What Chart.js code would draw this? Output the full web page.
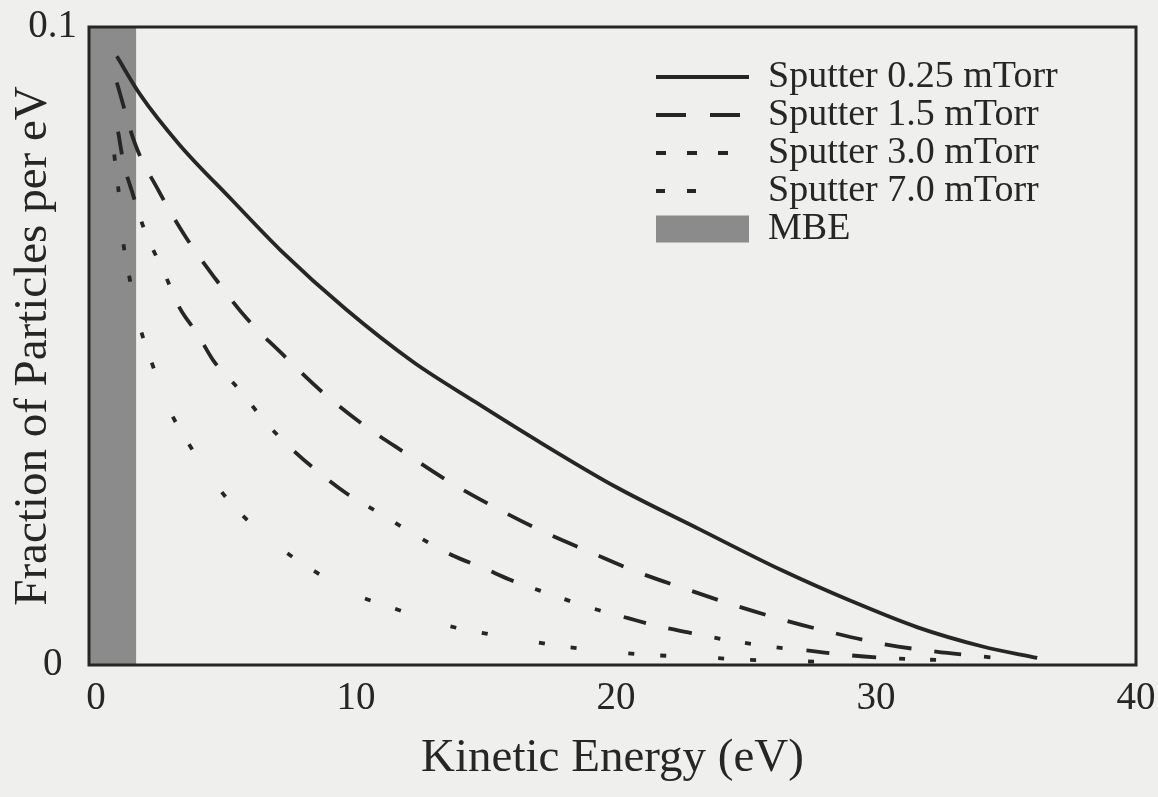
<!DOCTYPE html>
<html>
<head>
<meta charset="utf-8">
<title>Kinetic energy distribution</title>
<script src="https://cdn.jsdelivr.net/npm/chart.js@4.4.0/dist/chart.umd.min.js"></script>
<style>
  body { margin: 0; background: #efefed; }
  #wrap { width: 1158px; height: 797px; }
</style>
</head>
<body>
<div id="wrap"><canvas id="energyChart" width="1158" height="797"></canvas></div>
<script>
// axis ranges / ticks
const xMin = -0.27;
const xMax = 40;
const xTicks = [0, 10, 20, 30, 40];
const yTicks = [0, 0.1];

// Sputter 0.25 mTorr (solid)
const energy025 = [0.8, 1.7, 3.2, 5.2, 7.1, 9.6, 12.2, 14.6, 16.8, 20.0, 23.2, 26.4, 29.0, 31.6, 34.1, 36.2];
const frac025 = [0.0954, 0.0894, 0.0816, 0.0730, 0.0650, 0.0558, 0.0475, 0.0412, 0.0356, 0.0279, 0.0213, 0.0148, 0.0101, 0.0059, 0.0029, 0.0011];

// Sputter 1.5 mTorr (long dashes)
const energy15 = [0.8, 1.5, 2.4, 3.4, 4.6, 5.8, 7.2, 8.7, 10.2, 11.9, 13.6, 15.4, 17.2, 19.0, 20.8, 22.7, 24.6, 26.5, 28.4, 30.4, 32.3, 34.4];
const frac15 = [0.0913, 0.0817, 0.0744, 0.0674, 0.0605, 0.0543, 0.0486, 0.0428, 0.0379, 0.0332, 0.0287, 0.0246, 0.0209, 0.0177, 0.0146, 0.0119, 0.0093, 0.0070, 0.0050, 0.0032, 0.0021, 0.0012];

// Sputter 3.0 mTorr
const energy30 = [0.85, 1.05, 1.4, 1.9, 2.6, 3.2, 3.9, 4.5, 5.5, 6.6, 7.7, 8.6, 9.6, 10.9, 12.4, 13.7, 14.9, 15.9, 17.4, 19.0, 20.5, 21.6, 22.9, 24.3, 26.1, 27.5, 28.8, 30.0, 31.5, 33.3];
const frac30 = [0.0836, 0.0789, 0.0740, 0.0678, 0.0617, 0.0561, 0.0519, 0.0478, 0.0432, 0.0377, 0.0332, 0.0301, 0.0270, 0.0238, 0.0201, 0.0172, 0.0152, 0.0134, 0.0112, 0.0090, 0.0073, 0.0061, 0.0050, 0.0039, 0.0028, 0.0022, 0.0016, 0.0012, 0.0009, 0.0007];

// Sputter 7.0 mTorr
const energy70 = [0.7, 0.85, 1.05, 1.25, 1.7, 2.1, 2.85, 3.5, 4.65, 5.45, 7.1, 8.1, 10.0, 11.1, 13.2, 14.5, 16.6, 17.8, 20.0, 21.2, 23.4, 24.6, 26.8, 28.0];
const frac70 = [0.0800, 0.0750, 0.0662, 0.0615, 0.0529, 0.0479, 0.0398, 0.0351, 0.0281, 0.0242, 0.0183, 0.0155, 0.0110, 0.0094, 0.0065, 0.0053, 0.0038, 0.0030, 0.0020, 0.0016, 0.0012, 0.0009, 0.0006, 0.0005];

// MBE band (shaded from the axis up to ~1.5 eV)
const mbeEnergy = [xMin, 1.55];
const mbeFrac = [0.1, 0.1];

const serif = "'Liberation Serif', 'Times New Roman', serif";
const ink = '#262626';
const bandGray = '#8b8b8b';

// dash patterns on the plot and in the legend samples
const plotDash = [[], [27, 23], [23, 23, 24, 23, 6, 25, 6, 26, 6, 24], [6, 26, 6, 52]];
const legendDash = [[], [30, 24], [10, 21], [9, 22, 9, 200]];

function toPoints(xs, ys) {
    return xs.map((x, i) => ({ x: x, y: ys[i] }));
}

function curve(label, xs, ys, dash) {
    return {
        label: label,
        data: toPoints(xs, ys),
        borderColor: ink,
        borderWidth: 3.8,
        borderDash: dash,
        fill: false,
        pointRadius: 0,
        cubicInterpolationMode: 'monotone'
    };
}

// box around the plot area
const framePlugin = {
    id: 'frame',
    afterDraw(chart) {
        const a = chart.chartArea;
        const ctx = chart.ctx;
        ctx.save();
        ctx.strokeStyle = ink;
        ctx.lineWidth = 3;
        ctx.strokeRect(a.left, a.top, a.right - a.left, a.bottom - a.top);
        ctx.restore();
    }
};

// move the in-plot legend to the upper right
const legendSpot = {
    id: 'legendSpot',
    afterLayout(chart) {
        const lg = chart.legend;
        const w = lg.width;
        lg.left = 656;
        lg.top = 58;
        lg.right = lg.left + w;
    }
};

const ctx = document.getElementById('energyChart').getContext('2d');
new Chart(ctx, {
    type: 'line',
    data: {
        datasets: [
            curve('Sputter 0.25 mTorr', energy025, frac025, plotDash[0]),
            curve('Sputter 1.5 mTorr', energy15, frac15, plotDash[1]),
            curve('Sputter 3.0 mTorr', energy30, frac30, plotDash[2]),
            curve('Sputter 7.0 mTorr', energy70, frac70, plotDash[3]),
            {
                label: 'MBE',
                data: toPoints(mbeEnergy, mbeFrac),
                backgroundColor: bandGray,
                borderColor: bandGray,
                borderWidth: 0,
                pointRadius: 0,
                fill: 'origin'
            }
        ]
    },
    options: {
        responsive: false,
        animation: false,
        layout: { padding: { top: 27, right: 22, left: 0, bottom: 0 } },
        plugins: {
            tooltip: { enabled: false },
            legend: {
                position: 'chartArea',
                align: 'start',
                labels: {
                    usePointStyle: true,
                    pointStyleWidth: 93,
                    boxHeight: 27,
                    padding: 0,
                    color: ink,
                    font: { family: serif, size: 38 },
                    generateLabels(chart) {
                        const items = Chart.defaults.plugins.legend.labels.generateLabels(chart);
                        items.forEach((it, i) => {
                            if (i < 4) {
                                it.pointStyle = 'line';
                                it.lineWidth = 4;
                                it.strokeStyle = ink;
                                it.fillStyle = 'rgba(0,0,0,0)';
                                it.lineDash = legendDash[i];
                            } else {
                                it.pointStyle = 'rect';
                                it.lineWidth = 0;
                                it.fillStyle = bandGray;
                                it.strokeStyle = bandGray;
                                it.lineDash = [];
                            }
                        });
                        return items;
                    }
                }
            }
        },
        scales: {
            x: {
                type: 'linear',
                min: xMin,
                max: xMax,
                afterBuildTicks: (s) => { s.ticks = xTicks.map(v => ({ value: v })); },
                afterFit: (s) => { s.height = 132; s.paddingLeft = 0; s.paddingRight = 0; },
                grid: { display: false, drawTicks: false },
                border: { display: false },
                ticks: {
                    color: ink,
                    font: { family: serif, size: 39 },
                    padding: 10,
                    maxRotation: 0,
                    callback: (v) => String(v)
                },
                title: {
                    display: true,
                    text: 'Kinetic Energy (eV)',
                    color: ink,
                    font: { family: serif, size: 47 },
                    padding: { top: 0, bottom: 10 }
                }
            },
            y: {
                type: 'linear',
                min: 0,
                max: 0.1,
                afterBuildTicks: (s) => { s.ticks = yTicks.map(v => ({ value: v })); },
                afterFit: (s) => { s.width = 89; s.paddingTop = 0; s.paddingBottom = 0; },
                grid: { display: false, drawTicks: false },
                border: { display: false },
                ticks: {
                    color: ink,
                    font: { family: serif, size: 39 },
                    padding: 12,
                    crossAlign: 'center',
                    callback: (v) => String(v)
                },
                title: {
                    display: true,
                    text: 'Fraction of Particles per eV',
                    color: ink,
                    font: { family: serif, size: 47 },
                    padding: { top: 5, bottom: 0 }
                }
            }
        }
    },
    plugins: [framePlugin, legendSpot]
});
</script>
</body>
</html>
